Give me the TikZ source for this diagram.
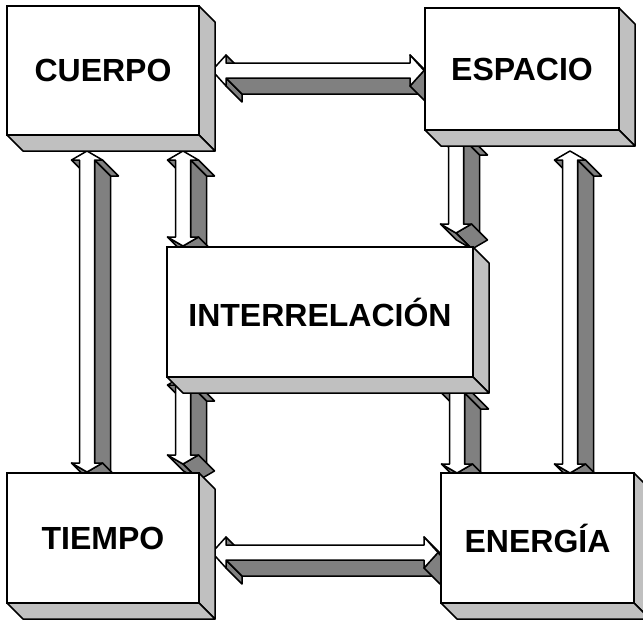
\documentclass[tikz,border=0pt]{standalone}
\usepackage{fontspec}
\setmainfont{Liberation Sans}
\usetikzlibrary{calc}

\definecolor{grisclaro}{RGB}{192,192,192}
\definecolor{grisoscuro}{RGB}{128,128,128}

\pgfdeclarelayer{fondo}
\pgfsetlayers{fondo,main}

\tikzset{
  caja/.style={draw, fill=white, line width=1.5pt, inner sep=0pt, outer sep=0pt,
    minimum height=130pt, font=\bfseries\fontsize{32}{36}\selectfont},
  lado/.style={draw, fill=grisclaro, line width=1.5pt, line join=round},
  cara/.style={draw, fill=white, line width=1.5pt, line join=round},
  sombra/.style={draw, fill=grisoscuro, line width=1.5pt, line join=round}
}

% flecha doble vertical en 3D: punta de arriba, punta de abajo
\newcommand{\vflecha}[2]{%
  \coordinate (p) at #1;
  \coordinate (q) at #2;
  \filldraw[sombra] ($(p)+(-7.5,9)$) -- ($(p)+(-15.5,9)$) -- ++(16,16) -- ($(p)+(8.5,25)$) -- cycle;
  \filldraw[sombra] ($(p)+(15.5,9)$) -- ($(p)+(7.5,9)$) -- ++(16,16) -- ($(p)+(31.5,25)$) -- cycle;
  \filldraw[sombra] ($(p)+(7.5,9)$) -- ($(q)+(7.5,-9)$) -- ++(16,16) -- ($(p)+(23.5,25)$) -- cycle;
  \filldraw[sombra] ($(q)+(15.5,-9)$) -- (q) -- ++(16,16) -- ($(q)+(31.5,7)$) -- cycle;
  \filldraw[sombra] (q) -- ($(q)+(-15.5,-9)$) -- ++(16,16) -- ($(q)+(16,16)$) -- cycle;
  \filldraw[cara] (p) -- ++(15.5,9) -- ++(-8,0) -- ($(q)+(7.5,-9)$) -- ++(8,0) -- (q)
    -- ++(-15.5,-9) -- ++(8,0) -- ($(p)+(-7.5,9)$) -- ++(-8,0) -- cycle;
}

% flecha doble horizontal en 3D: punta izquierda, punta derecha
\newcommand{\hflecha}[2]{%
  \coordinate (p) at #1;
  \coordinate (q) at #2;
  \filldraw[sombra] ($(p)+(14,-7.5)$) -- ($(p)+(14,-15.5)$) -- ++(16,16) -- ($(p)+(30,8.5)$) -- cycle;
  \filldraw[sombra] ($(p)+(14,15.5)$) -- ($(p)+(14,7.5)$) -- ++(16,16) -- ($(p)+(30,31.5)$) -- cycle;
  \filldraw[sombra] ($(p)+(14,7.5)$) -- ($(q)+(-14,7.5)$) -- ++(16,16) -- ($(p)+(30,23.5)$) -- cycle;
  \filldraw[sombra] ($(q)+(-14,15.5)$) -- (q) -- ++(16,16) -- ($(q)+(2,31.5)$) -- cycle;
  \filldraw[sombra] (q) -- ($(q)+(-14,-15.5)$) -- ++(16,16) -- ($(q)+(16,16)$) -- cycle;
  \filldraw[cara] (p) -- ++(14,15.5) -- ++(0,-8) -- ($(q)+(-14,7.5)$) -- ++(0,8) -- (q)
    -- ++(-14,-15.5) -- ++(0,8) -- ($(p)+(14,-7.5)$) -- ++(0,-8) -- cycle;
}

% caras laterales de una caja
\newcommand{\fondocaja}[1]{%
  \filldraw[lado] (#1.north east) -- ++(16,16) -- ($(#1.south east)+(16,16)$) -- (#1.south east) -- cycle;
  \filldraw[lado] (#1.south west) -- ++(16,16) -- ($(#1.south east)+(16,16)$) -- (#1.south east) -- cycle;
}

\begin{document}
\begin{tikzpicture}[x=1pt, y=-1pt]
  \useasboundingbox (0,0) rectangle (643,619);

  \node[caja, minimum width=192pt, minimum height=129pt] (cuerpo) at (103,70.5) {CUERPO};
  \node[caja, minimum width=194pt, minimum height=122pt] (espacio) at (522,69) {ESPACIO};
  \node[caja, minimum width=306pt] (inter) at (320,312) {INTERRELACIÓN};
  \node[caja, minimum width=192pt] (tiempo) at (103,538) {TIEMPO};
  \node[caja, minimum width=193pt] (energia) at (537.5,538) {ENERGÍA};

  \fondocaja{cuerpo}
  \fondocaja{espacio}
  \fondocaja{inter}
  \fondocaja{tiempo}
  \fondocaja{energia}

  \begin{pgfonlayer}{fondo}
    \hflecha{($(cuerpo.east)+(13,0)$)}{($(cuerpo.east -| espacio.west)+(-1,0)$)}
    \hflecha{($(tiempo.east)+(13,14.5)$)}{($(tiempo.east -| energia.west)+(-3,14.5)$)}
    \vflecha{($(cuerpo.south west)+(80,16)$)}{($(tiempo.north west)+(80,-1)$)}
    \vflecha{($(cuerpo.south west)+(176,16)$)}{($(inter.north west)+(16,-1)$)}
    \vflecha{($(inter.south west)+(16,-1)$)}{($(tiempo.north east)+(-16,-9)$)}
    \vflecha{($(espacio.south west)+(31,0)$)}{($(inter.north east)+(-17,-14)$)}
    \vflecha{($(inter.south east)+(-16,7)$)}{($(energia.north west)+(16,0)$)}
    \vflecha{($(espacio.south west)+(145,21)$)}{($(energia.north west)+(129,0)$)}
  \end{pgfonlayer}
\end{tikzpicture}
\end{document}
